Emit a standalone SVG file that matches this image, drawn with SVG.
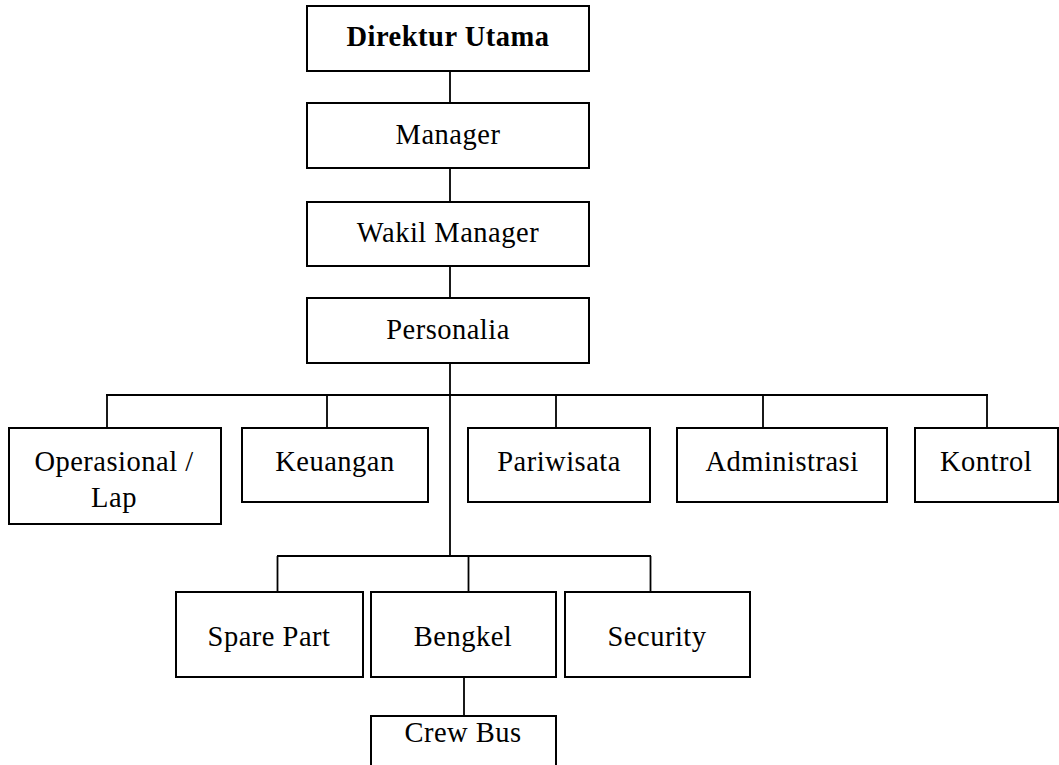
<svg xmlns="http://www.w3.org/2000/svg" width="1059" height="765" viewBox="0 0 1059 765">
<style>
.box{fill:#fff;stroke:#000;stroke-width:2}
.lbl{font-family:"Liberation Serif","Times New Roman",serif;font-size:28.5px;letter-spacing:0.5px;fill:#000;text-anchor:middle}
.b{font-weight:bold}
.con line{stroke:#000;stroke-width:1.8}
</style>
<rect width="1059" height="765" fill="#fff"/>
<g id="connectors" class="con">
<line x1="450" y1="71" x2="450" y2="103"/>
<line x1="450" y1="168" x2="450" y2="202"/>
<line x1="450" y1="266" x2="450" y2="298"/>
<line x1="450" y1="363" x2="450" y2="556"/>
<line x1="106" y1="395" x2="988" y2="395"/>
<line x1="107" y1="395" x2="107" y2="428"/>
<line x1="327" y1="395" x2="327" y2="428"/>
<line x1="556" y1="395" x2="556" y2="428"/>
<line x1="763" y1="395" x2="763" y2="428"/>
<line x1="987" y1="395" x2="987" y2="428"/>
<line x1="277" y1="556" x2="651" y2="556"/>
<line x1="277.5" y1="556" x2="277.5" y2="592"/>
<line x1="468.5" y1="556" x2="468.5" y2="592"/>
<line x1="650.5" y1="556" x2="650.5" y2="592"/>
<line x1="464" y1="677" x2="464" y2="716"/>
</g>
<g id="direktur"><rect class="box" x="307" y="6" width="282" height="65"/><text class="lbl b" x="448" y="46">Direktur Utama</text></g>
<g id="manager"><rect class="box" x="307" y="103" width="282" height="65"/><text class="lbl" x="448" y="144">Manager</text></g>
<g id="wakil"><rect class="box" x="307" y="202" width="282" height="64"/><text class="lbl" x="448" y="242">Wakil Manager</text></g>
<g id="personalia"><rect class="box" x="307" y="298" width="282" height="65"/><text class="lbl" x="448" y="339">Personalia</text></g>
<g id="operasional"><rect class="box" x="9" y="428" width="212" height="96"/><text class="lbl" x="114" y="471">Operasional /</text><text class="lbl" x="114" y="507">Lap</text></g>
<g id="keuangan"><rect class="box" x="242" y="428" width="186" height="74"/><text class="lbl" x="335" y="471">Keuangan</text></g>
<g id="pariwisata"><rect class="box" x="468" y="428" width="182" height="74"/><text class="lbl" x="559" y="471">Pariwisata</text></g>
<g id="administrasi"><rect class="box" x="677" y="428" width="210" height="74"/><text class="lbl" x="782" y="471">Administrasi</text></g>
<g id="kontrol"><rect class="box" x="915" y="428" width="143" height="74"/><text class="lbl" x="986" y="471">Kontrol</text></g>
<g id="sparepart"><rect class="box" x="176" y="592" width="187" height="85"/><text class="lbl" x="269" y="646">Spare Part</text></g>
<g id="bengkel"><rect class="box" x="371" y="592" width="185" height="85"/><text class="lbl" x="463" y="646">Bengkel</text></g>
<g id="security"><rect class="box" x="565" y="592" width="185" height="85"/><text class="lbl" x="657" y="646">Security</text></g>
<g id="crewbus"><rect class="box" x="371" y="716" width="185" height="60"/><text class="lbl" x="463" y="742">Crew Bus</text></g>
</svg>
